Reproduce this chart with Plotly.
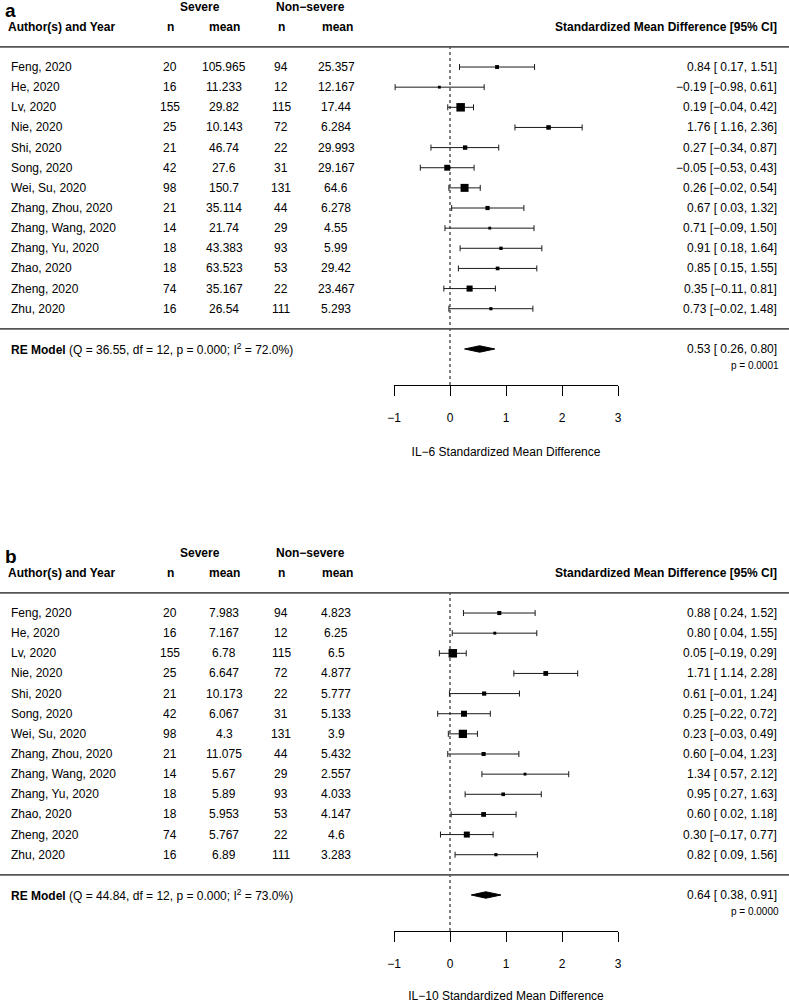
import plotly.graph_objects as go

# ---------------- data ----------------
studies = ["Feng, 2020", "He, 2020", "Lv, 2020", "Nie, 2020", "Shi, 2020", "Song, 2020",
           "Wei, Su, 2020", "Zhang, Zhou, 2020", "Zhang, Wang, 2020", "Zhang, Yu, 2020",
           "Zhao, 2020", "Zheng, 2020", "Zhu, 2020"]
n_severe = [20, 16, 155, 25, 21, 42, 98, 21, 14, 18, 18, 74, 16]
n_nonsevere = [94, 12, 115, 72, 22, 31, 131, 44, 29, 93, 53, 22, 111]

il6_mean_severe = ["105.965", "11.233", "29.82", "10.143", "46.74", "27.6", "150.7",
                   "35.114", "21.74", "43.383", "63.523", "35.167", "26.54"]
il6_mean_nonsevere = ["25.357", "12.167", "17.44", "6.284", "29.993", "29.167", "64.6",
                      "6.278", "4.55", "5.99", "29.42", "23.467", "5.293"]
il6_smd = [0.84, -0.19, 0.19, 1.76, 0.27, -0.05, 0.26, 0.67, 0.71, 0.91, 0.85, 0.35, 0.73]
il6_lo = [0.17, -0.98, -0.04, 1.16, -0.34, -0.53, -0.02, 0.03, -0.09, 0.18, 0.15, -0.11, -0.02]
il6_hi = [1.51, 0.61, 0.42, 2.36, 0.87, 0.43, 0.54, 1.32, 1.50, 1.64, 1.55, 0.81, 1.48]
il6_weight = [6.9, 5.9, 11.3, 7.5, 7.4, 8.8, 10.8, 7.2, 5.9, 6.4, 6.7, 9.0, 6.2]
il6_re = (0.53, 0.26, 0.80)
il6_het = "(Q = 36.55, df = 12, p = 0.000; I<sup>2</sup> = 72.0%)"
il6_p = "p = 0.0001"

il10_mean_severe = ["7.983", "7.167", "6.78", "6.647", "10.173", "6.067", "4.3",
                    "11.075", "5.67", "5.89", "5.953", "5.767", "6.89"]
il10_mean_nonsevere = ["4.823", "6.25", "6.5", "4.877", "5.777", "5.133", "3.9",
                       "5.432", "2.557", "4.033", "4.147", "4.6", "3.283"]
il10_smd = [0.88, 0.80, 0.05, 1.71, 0.61, 0.25, 0.23, 0.60, 1.34, 0.95, 0.60, 0.30, 0.82]
il10_lo = [0.24, 0.04, -0.19, 1.14, -0.01, -0.22, -0.03, -0.04, 0.57, 0.27, 0.02, -0.17, 0.09]
il10_hi = [1.52, 1.55, 0.29, 2.28, 1.24, 0.72, 0.49, 1.23, 2.12, 1.63, 1.18, 0.77, 1.56]
il10_weight = [7.0, 6.0, 10.9, 7.6, 7.1, 8.7, 10.7, 7.0, 5.9, 6.6, 7.6, 8.7, 6.2]
il10_re = (0.64, 0.38, 0.91)
il10_het = "(Q = 44.84, df = 12, p = 0.000; I<sup>2</sup> = 73.0%)"
il10_p = "p = 0.0000"

tick_vals = [-1, 0, 1, 2, 3]

# ---------------- layout constants ----------------
W, H = 789, 1003
FONT = "Liberation Sans, Arial, Helvetica, sans-serif"
rows = list(range(len(studies), 0, -1))          # 13 .. 1
YR = [-2.788, 16.328]                              # row range of one panel
MINUS = "\u2212"


def fmt(v, width=0):
    s = f"{v:{width}.2f}"
    return s.replace("-", MINUS)


fig = go.Figure()
annotations = []
shapes = []


def txt(xpx, row, text, yref, anchor, size=12, bold=False):
    if bold:
        text = f"<b>{text}</b>"
    annotations.append(dict(x=xpx / W, y=row, xref="paper", yref=yref, text=text,
                            showarrow=False, xanchor=anchor, yanchor="middle",
                            font=dict(family=FONT, size=size, color="black"),
                            borderpad=0))


panels = [
    dict(label="a", xa="x", ya="y",
         dom=[1 - 385 / H, 1.0], ms=il6_mean_severe, mn=il6_mean_nonsevere,
         smd=il6_smd, lo=il6_lo, hi=il6_hi, w=il6_weight, re=il6_re,
         het=il6_het, p=il6_p, title=f"IL{MINUS}6 Standardized Mean Difference"),
    dict(label="b", xa="x2", ya="y2",
         dom=[1 - 931 / H, 1 - 546 / H], ms=il10_mean_severe, mn=il10_mean_nonsevere,
         smd=il10_smd, lo=il10_lo, hi=il10_hi, w=il10_weight, re=il10_re,
         het=il10_het, p=il10_p, title=f"IL{MINUS}10 Standardized Mean Difference"),
]

for P in panels:
    ya = P["ya"]
    # reference line at 0
    fig.add_trace(go.Scatter(x=[0, 0], y=[YR[0], len(studies) + 1], mode="lines",
                             line=dict(color="black", width=1, dash="dot"),
                             xaxis=P["xa"], yaxis=ya, hoverinfo="skip", showlegend=False))
    # study estimates
    wmin, wmax = min(P["w"]), max(P["w"])
    sizes = [8.5 * (0.5 + (w - wmin) / (wmax - wmin)) / 1.5 for w in P["w"]]
    fig.add_trace(go.Scatter(
        x=P["smd"], y=rows, mode="markers",
        marker=dict(symbol="square", size=sizes, color="black", opacity=1,
                    line=dict(width=0)),
        error_x=dict(type="data", symmetric=False,
                     array=[h - e for h, e in zip(P["hi"], P["smd"])],
                     arrayminus=[e - l for e, l in zip(P["smd"], P["lo"])],
                     color="#1a1a1a", thickness=1, width=3),
        xaxis=P["xa"], yaxis=ya, hoverinfo="skip", showlegend=False))
    # RE diamond
    est, lo, hi = P["re"]
    h = 0.16
    fig.add_trace(go.Scatter(x=[lo, est, hi, est, lo], y=[-1, -1 + h, -1, -1 - h, -1],
                             mode="lines", fill="toself", fillcolor="black",
                             line=dict(color="black", width=1),
                             xaxis=P["xa"], yaxis=ya, hoverinfo="skip", showlegend=False))

    # horizontal separator lines
    for r in (len(studies) + 1, 0):
        shapes.append(dict(type="line", xref="paper", x0=0, x1=1, yref=ya, y0=r, y1=r,
                           line=dict(color="#555", width=1.6)))

    # headers
    txt(4, 15.8, P["label"], ya, "left", size=19, bold=True)
    txt(200, 16, "Severe", ya, "center", bold=True)
    txt(310, 16, f"Non{MINUS}severe", ya, "center", bold=True)
    txt(7, 15, "Author(s) and Year", ya, "left", bold=True)
    txt(170, 15, "n", ya, "center", bold=True)
    txt(224, 15, "mean", ya, "center", bold=True)
    txt(281, 15, "n", ya, "center", bold=True)
    txt(337, 15, "mean", ya, "center", bold=True)
    txt(778, 15, "Standardized Mean Difference [95% CI]", ya, "right", bold=True)

    # study rows
    for i, r in enumerate(rows):
        txt(10, r, studies[i], ya, "left")
        txt(170, r, str(n_severe[i]), ya, "center")
        txt(224, r, P["ms"][i], ya, "center")
        txt(281, r, str(n_nonsevere[i]), ya, "center")
        txt(336, r, P["mn"][i], ya, "center")
        txt(778, r, f"{fmt(P['smd'][i])} [{fmt(P['lo'][i], 5)}, {fmt(P['hi'][i])}]", ya, "right")

    # RE model row
    txt(10, -1, "<b>RE Model</b> " + P["het"], ya, "left")
    txt(778, -1, f"{fmt(est)} [{fmt(lo, 5)}, {fmt(hi)}]", ya, "right")
    txt(780, -1.8, P["p"], ya, "right", size=10)

axis_common = dict(range=[-1, 3], domain=[394 / W, 618 / W], showline=True, linecolor="black",
                   linewidth=1, ticks="outside", ticklen=10, tickwidth=1, tickcolor="black",
                   tickvals=tick_vals, showgrid=False, zeroline=False, automargin=False,
                   tickfont=dict(family=FONT, size=12, color="black"), ticklabelstandoff=12,
                   fixedrange=True)

fig.update_layout(
    width=W, height=H, margin=dict(l=0, r=0, t=0, b=0), template="none",
    paper_bgcolor="white", plot_bgcolor="rgba(0,0,0,0)", showlegend=False,
    annotations=annotations, shapes=shapes,
    xaxis=dict(anchor="y", title=dict(text=panels[0]["title"], standoff=23,
                                       font=dict(family=FONT, size=12, color="black")),
               **axis_common),
    xaxis2=dict(anchor="y2", title=dict(text=panels[1]["title"], standoff=23,
                                         font=dict(family=FONT, size=12, color="black")),
                **axis_common),
    yaxis=dict(domain=panels[0]["dom"], range=YR, visible=False, fixedrange=True),
    yaxis2=dict(domain=panels[1]["dom"], range=YR, visible=False, fixedrange=True),
)

fig.write_html("out.html", post_script="document.body.style.margin='0';",
               config={"displayModeBar": False})
